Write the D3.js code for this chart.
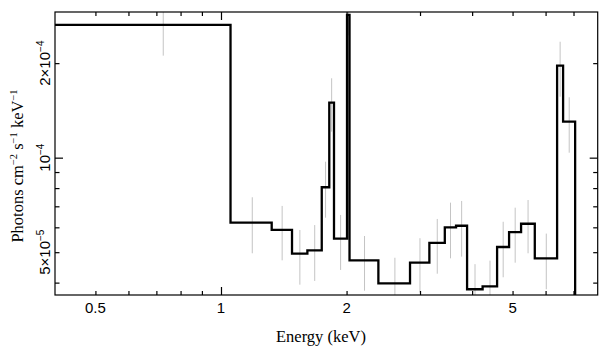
<!DOCTYPE html>
<html>
<head>
<meta charset="utf-8">
<script src="https://cdn.jsdelivr.net/npm/d3@7"></script>
<style>
  html, body { margin: 0; padding: 0; background: #fff; }
  svg { display: block; }
</style>
</head>
<body>
<svg id="chart" width="608" height="357"></svg>
<script>
// ---- data ----
const binEdges = [0.4, 1.054, 1.323, 1.480, 1.611, 1.744, 1.818, 1.866, 2.005, 2.033, 2.384, 2.839,
                  3.159, 3.440, 3.660, 3.890, 4.238, 4.591, 4.905, 5.241, 5.653, 6.394, 6.609, 7.063];
const flux = [2.646e-4, 6.21e-5, 5.885e-5, 4.945e-5, 5.07e-5, 8.05e-5, 1.497e-4, 5.52e-5, 2.85e-4,
              4.708e-5, 3.98e-5, 4.63e-5, 5.35e-5, 6.00e-5, 6.07e-5, 3.81e-5, 3.89e-5, 5.195e-5,
              5.79e-5, 6.16e-5, 4.78e-5, 1.963e-4, 1.302e-4];
const errLow = [2.113e-4, 4.96e-5, 4.71e-5, 3.94e-5, 4.05e-5, 6.44e-5, 1.21e-4, 4.39e-5, 2.45e-4,
                3.77e-5, 3.16e-5, 3.72e-5, 4.27e-5, 4.78e-5, 4.84e-5, 3.04e-5, 3.08e-5, 4.16e-5,
                4.63e-5, 4.96e-5, 3.81e-5, 1.564e-4, 1.037e-4];
const errHigh = [3.18e-4, 7.48e-5, 7.02e-5, 5.885e-5, 6.10e-5, 9.71e-5, 1.79e-4, 6.57e-5, 3.25e-4,
                 5.63e-5, 4.80e-5, 5.54e-5, 6.38e-5, 7.19e-5, 7.28e-5, 4.58e-5, 4.70e-5, 6.25e-5,
                 6.93e-5, 7.33e-5, 5.73e-5, 2.34e-4, 1.557e-4];

const xDomain = [0.4, 8];
const yDomain = [3.653e-5, 2.91e-4];
const xMajorTicks = [1];
const xMinorTicks = [0.5, 0.6, 0.7, 0.8, 0.9, 2, 3, 4, 5, 6, 7];
const xLabelValues = [0.5, 1, 2, 5];
const xLabelTexts = ["0.5", "1", "2", "5"];
const yMajorTicks = [1e-4];
const yMinorTicks = [4e-5, 5e-5, 6e-5, 7e-5, 8e-5, 9e-5, 2e-4];
const yLabelValues = [2e-4, 1e-4, 5e-5];
const yLabelMantissa = ["2×10", "10", "5×10"];
const yLabelExponent = ["−4", "−4", "−5"];

// ---- layout ----
const L = 55, R = 597.7, T = 12, B = 295;
const svg = d3.select("#chart");
const x = d3.scaleLog().domain(xDomain).range([L, R]);
const y = d3.scaleLog().domain(yDomain).range([B, T]);

svg.append("defs").append("clipPath").attr("id", "plotclip")
  .append("rect").attr("x", L).attr("y", T).attr("width", R - L).attr("height", B - T);

const plot = svg.append("g").attr("clip-path", "url(#plotclip)");

// error bars
const bins = flux.map((f, i) => ({lo: binEdges[i], hi: binEdges[i + 1], f, el: errLow[i], eh: errHigh[i]}));
plot.selectAll("line.err").data(bins).enter().append("line")
  .attr("class", "err")
  .attr("x1", d => x((d.lo + d.hi) / 2)).attr("x2", d => x((d.lo + d.hi) / 2))
  .attr("y1", d => y(d.el)).attr("y2", d => y(d.eh))
  .attr("stroke", "#c4c4c4").attr("stroke-width", 1);

// step line
const pts = bins.map(d => [d.lo, d.f]);
pts.push([binEdges[binEdges.length - 1], flux[flux.length - 1]]);
pts.push([binEdges[binEdges.length - 1], yDomain[0] * 0.8]);
const line = d3.line().x(d => x(d[0])).y(d => y(d[1])).curve(d3.curveStepAfter);
plot.append("path").datum(pts).attr("d", line)
  .attr("fill", "none").attr("stroke", "#000").attr("stroke-width", 2.3)
  .attr("stroke-linejoin", "miter");

// axes ticks (inward) on all four sides
function addAxis(axisFn, scale, vals, size, transform) {
  svg.append("g").attr("transform", transform)
    .call(axisFn(scale).tickValues(vals).tickSize(size).tickFormat(""))
    .call(g => g.select(".domain").remove())
    .selectAll("line").attr("stroke", "#000").attr("stroke-width", 1.2);
}
addAxis(d3.axisBottom, x, xMajorTicks, -8, `translate(0,${B})`);
addAxis(d3.axisBottom, x, xMinorTicks, -4, `translate(0,${B})`);
addAxis(d3.axisTop, x, xMajorTicks, -8, `translate(0,${T})`);
addAxis(d3.axisTop, x, xMinorTicks, -4, `translate(0,${T})`);
addAxis(d3.axisLeft, y, yMajorTicks, -8, `translate(${L},0)`);
addAxis(d3.axisLeft, y, yMinorTicks, -4.5, `translate(${L},0)`);
addAxis(d3.axisRight, y, yMajorTicks, -8, `translate(${R},0)`);
addAxis(d3.axisRight, y, yMinorTicks, -4.5, `translate(${R},0)`);

// frame
svg.append("rect").attr("x", L).attr("y", T).attr("width", R - L).attr("height", B - T)
  .attr("fill", "none").attr("stroke", "#000").attr("stroke-width", 1.2);

// x tick labels
svg.selectAll("text.xl").data(xLabelValues).enter().append("text")
  .attr("class", "xl")
  .attr("x", d => x(d)).attr("y", 313.3)
  .attr("text-anchor", "middle")
  .attr("font-family", "'Liberation Sans', Arial, sans-serif").attr("font-size", 15)
  .text((d, i) => xLabelTexts[i]);

// y tick labels (rotated, with superscript exponent)
yLabelValues.forEach((v, i) => {
  const t = svg.append("text")
    .attr("transform", `translate(50,${y(v)}) rotate(-90)`)
    .attr("text-anchor", "middle")
    .attr("font-family", "'Liberation Sans', Arial, sans-serif").attr("font-size", 15);
  t.append("tspan").text(yLabelMantissa[i]);
  t.append("tspan").attr("font-size", 10).attr("dy", -6).text(yLabelExponent[i]);
});

// axis titles
svg.append("text")
  .attr("x", 321).attr("y", 342)
  .attr("text-anchor", "middle")
  .attr("font-family", "'Liberation Serif', 'Times New Roman', serif").attr("font-size", 16.5)
  .text("Energy (keV)");

const yt = svg.append("text")
  .attr("transform", "translate(23,166) rotate(-90)")
  .attr("text-anchor", "middle")
  .attr("font-family", "'Liberation Serif', 'Times New Roman', serif").attr("font-size", 16.5);
yt.append("tspan").text("Photons cm");
yt.append("tspan").attr("font-size", 10.5).attr("dy", -6).text("−2");
yt.append("tspan").attr("dy", 6).text(" s");
yt.append("tspan").attr("font-size", 10.5).attr("dy", -6).text("−1");
yt.append("tspan").attr("dy", 6).text(" keV");
yt.append("tspan").attr("font-size", 10.5).attr("dy", -6).text("−1");
</script>
</body>
</html>
